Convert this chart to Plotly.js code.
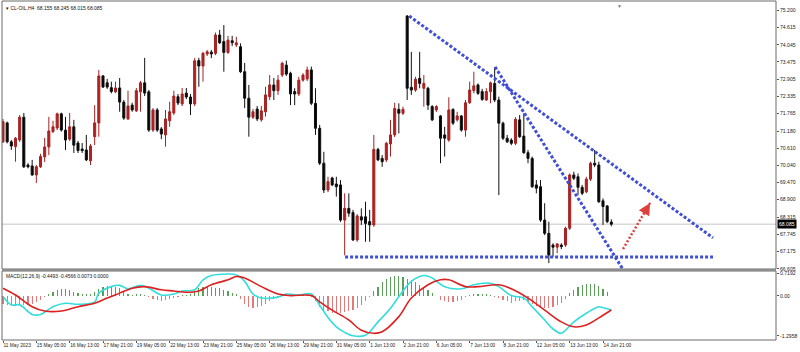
<!DOCTYPE html>
<html><head><meta charset="utf-8">
<script src="https://cdn.plot.ly/plotly-3.0.1.min.js"></script>
<style>html,body{margin:0;padding:0;background:#fff}#chart{width:800px;height:352px}</style>
</head><body><div id="chart"></div>
<script>
// ---- Candles (CL-OIL H4), bar index 0..146 ----
const openP = [70.82,71.45,70.82,70.66,70.88,71.64,70.05,70.02,69.72,69.99,
70.32,70.65,71.16,71.28,71.75,71.21,70.91,71.32,70.78,70.58,
70.55,70.19,70.99,71.45,73.01,72.78,72.62,72.48,72.61,72.14,
71.58,72.04,71.85,72.48,72.78,72.48,71.21,71.88,71.25,71.05,
71.52,71.78,72.32,72.08,72.44,72.31,72.08,73.52,73.34,73.74,
73.80,73.76,74.37,74.15,73.79,74.18,74.04,73.98,73.15,72.27,
71.64,71.91,71.55,71.82,72.32,72.71,72.52,73.04,73.37,73.10,
72.49,72.41,72.87,72.91,73.21,72.10,71.27,70.11,69.22,69.62,
69.42,69.39,68.22,68.61,68.47,67.56,68.33,68.33,68.17,68.06,
70.57,70.27,70.22,70.75,71.05,71.90,71.77,75.00,72.63,72.54,
72.93,72.60,72.60,71.99,71.88,71.68,71.05,70.88,71.90,71.55,
71.68,71.21,72.12,72.52,72.71,72.49,72.21,72.49,72.76,72.21,
71.44,70.94,70.88,70.77,71.55,71.01,70.46,70.27,69.39,69.33,
68.22,67.78,67.39,67.32,67.39,67.39,67.95,69.72,69.66,69.31,
69.16,69.58,70.11,70.05,68.86,68.69,68.155];
const highP = [71.58,71.49,70.88,70.98,71.71,71.78,70.11,70.22,70.05,70.42,
70.95,71.65,71.52,71.79,71.79,71.65,71.78,71.55,70.85,70.78,
71.05,70.75,72.04,73.21,73.04,72.91,72.82,72.82,72.94,72.21,
72.52,72.12,72.61,72.84,73.61,72.54,71.94,71.94,71.31,71.88,
72.15,72.52,72.41,72.61,72.61,72.41,73.61,73.61,73.81,73.87,
73.87,74.45,74.54,74.70,74.34,74.34,74.31,74.09,73.44,72.71,
71.91,72.01,72.01,72.65,73.04,72.94,73.04,73.48,73.52,73.15,
72.60,72.98,73.10,73.32,73.32,72.60,71.38,70.49,69.66,69.66,
69.66,69.55,69.11,69.11,68.56,68.42,68.61,68.83,68.56,71.05,
70.62,70.38,70.82,71.55,72.12,72.10,71.99,75.03,73.81,72.98,
73.81,73.04,72.65,72.04,72.04,71.71,71.32,72.30,71.93,71.82,
71.71,72.21,72.82,73.15,72.76,72.58,72.60,72.82,73.30,72.32,
71.49,71.05,70.94,71.64,71.71,71.77,70.55,70.33,69.55,69.55,
68.78,68.17,67.45,67.45,67.45,68.00,69.77,69.83,69.77,69.39,
69.66,70.16,70.55,70.16,68.94,68.72,68.245];
const lowP = [70.78,70.77,70.55,70.16,70.82,69.95,69.94,69.69,69.45,69.95,
70.15,70.38,71.11,71.21,71.16,70.55,70.85,70.45,70.45,70.45,
70.18,70.05,70.71,70.99,72.61,72.58,72.43,72.44,71.82,71.55,
71.55,71.82,71.81,71.82,72.34,71.15,71.15,71.15,70.91,70.66,
71.32,71.71,72.04,72.01,72.24,71.71,72.01,72.65,72.82,73.67,
73.60,73.70,74.07,73.15,73.74,74.00,73.97,73.11,71.94,70.99,
71.58,71.51,71.49,71.66,72.21,72.21,72.38,72.97,73.01,72.04,
72.04,72.34,72.82,72.84,72.04,71.05,70.05,69.12,69.15,69.35,
69.00,68.16,67.05,68.33,67.53,67.50,68.06,67.50,67.50,68.00,
70.18,69.99,70.15,70.33,70.98,71.10,71.71,72.21,72.38,72.48,
72.60,71.99,71.88,71.51,71.81,70.11,70.33,70.82,71.38,71.49,
71.16,70.99,72.08,72.43,72.38,72.18,72.18,72.10,72.14,69.05,
70.88,70.78,70.71,70.71,70.95,70.42,70.11,69.29,69.11,68.16,
67.72,66.79,67.00,67.12,67.26,67.33,67.89,69.55,69.05,69.05,
69.11,69.52,69.98,68.79,68.06,68.12,68.015];
const closeP = [71.49,70.82,70.68,70.94,71.64,69.99,69.99,69.72,69.99,70.33,
70.65,71.18,71.32,71.75,71.21,70.88,71.32,70.71,70.53,70.53,
70.22,70.68,71.45,73.01,72.64,72.64,72.49,72.61,72.14,71.61,
72.01,71.88,72.52,72.78,72.44,71.21,71.88,71.21,71.08,71.58,
71.82,72.34,72.11,72.41,72.31,72.08,73.51,73.34,73.76,73.81,
73.74,74.37,74.11,73.79,74.20,74.11,74.11,73.15,72.27,71.64,
71.82,71.58,71.85,72.38,72.71,72.52,72.87,73.43,73.07,72.41,
72.41,72.87,73.04,73.21,72.10,71.27,70.11,69.22,69.50,69.39,
69.33,68.22,68.61,68.45,67.56,68.36,68.22,68.11,68.06,70.57,
70.22,70.16,70.77,71.05,71.93,71.77,71.90,72.60,72.54,72.90,
72.76,72.76,72.04,71.55,71.99,70.94,70.94,71.88,71.44,71.68,
71.21,72.12,72.54,72.68,72.43,72.23,72.49,72.78,72.21,71.44,
70.94,70.82,70.77,71.57,70.99,70.46,70.27,69.33,69.28,68.22,
67.78,67.06,67.32,67.43,67.34,67.95,69.72,69.61,69.31,69.11,
69.58,70.11,70.05,68.83,68.67,68.17,68.085];

// ---- MACD(12,26,9) ----
const macdX = [0,2,4,7,9,12,15,18,22,23,26,28,30,33,35,38,41,43,46,48,50,54,56,58,60,62,66,68,71,74,76,78,80,82,84,87,90,93,95,98,101,103,106,110,113,117,119,122,125,127,130,132,134,135,137,140,143,144,146];
const macdY = [-0.02,-0.29,-0.29,-0.60,-0.60,-0.35,-0.24,-0.27,-0.19,0.09,0.30,0.34,0.23,0.34,0.25,0.03,0.06,0.16,0.20,0.52,0.66,0.71,0.68,0.47,0.06,-0.07,-0.04,0.06,0.03,0.06,-0.30,-0.70,-1.00,-1.18,-1.29,-1.27,-0.84,-0.40,-0.02,0.47,0.66,0.58,0.30,0.23,0.36,0.41,0.30,0.01,-0.07,-0.35,-0.78,-1.07,-1.21,-1.11,-0.84,-0.56,-0.35,-0.38,-0.4493];
const sigX = [0,3,7,10,14,18,22,25,28,31,34,38,41,44,47,50,54,56,58,62,66,69,74,76,79,83,86,89,91,95,98,102,105,107,111,114,119,122,126,130,134,137,140,143,146];
const sigY = [0.25,0.03,-0.35,-0.49,-0.49,-0.35,-0.24,-0.07,0.09,0.25,0.30,0.20,0.16,0.12,0.16,0.36,0.52,0.63,0.58,0.30,0.06,0.01,0.01,-0.19,-0.46,-0.78,-1.11,-1.21,-1.16,-0.67,-0.07,0.36,0.52,0.52,0.30,0.30,0.36,0.23,-0.07,-0.46,-0.84,-1.00,-0.94,-0.71,-0.4566];
const histY = [-0.27,-0.30,-0.33,-0.32,-0.30,-0.30,-0.28,-0.25,-0.20,-0.14,
-0.05,0.05,0.12,0.18,0.21,0.21,0.18,0.13,0.08,0.06,
0.05,0.06,0.14,0.22,0.28,0.33,0.33,0.30,0.25,0.15,
0.06,0.04,0.06,0.07,0.04,-0.04,-0.09,-0.13,-0.16,-0.14,
-0.11,-0.08,-0.03,0.02,0.04,0.05,0.15,0.25,0.30,0.31,
0.30,0.27,0.24,0.20,0.15,0.09,0.05,-0.10,-0.25,-0.36,
-0.39,-0.37,-0.33,-0.26,-0.18,-0.11,-0.04,0.03,0.05,0.03,
0.02,0.02,0.03,0.05,-0.05,-0.17,-0.35,-0.45,-0.50,-0.55,
-0.55,-0.55,-0.52,-0.50,-0.46,-0.40,-0.30,-0.18,-0.05,0.15,
0.30,0.45,0.55,0.62,0.65,0.65,0.60,0.55,0.52,0.45,
0.35,0.28,0.18,0.08,0.00,-0.12,-0.17,-0.20,-0.20,-0.17,
-0.12,-0.05,0.03,0.06,0.07,0.06,0.05,0.04,-0.02,-0.08,
-0.12,-0.18,-0.22,-0.18,-0.15,-0.14,-0.20,-0.27,-0.33,-0.37,
-0.38,-0.38,-0.36,-0.30,-0.22,-0.10,0.08,0.18,0.28,0.34,
0.38,0.40,0.38,0.32,0.22,0.12,0.01];

// ---- Drawn objects (bar index, price) ----
const upperTrendX = [97.5,170.4], upperTrendY = [75.00,67.63];
const steepTrendX = [118.1,149.5], steepTrendY = [73.31,66.43];
const supportX = [82.1,170.4], supportY = [66.99,66.99];
const arrowX = [148.8,155.3], arrowY = [67.26,68.79];
const lastPrice = 68.085;

// ---- Axis labels ----
const timeTickVals = [0,8,16,24,32,40,48,56,64,72,80,88,96,104,112,120,128,136,144];
const timeTickText = ["11 May 2023","15 May 05:00","16 May 13:00","17 May 21:00","19 May 05:00","22 May 13:00","23 May 21:00","25 May 05:00","26 May 13:00","29 May 21:00","31 May 05:00","1 Jun 13:00","2 Jun 21:00","6 Jun 05:00","7 Jun 13:00","8 Jun 21:00","12 Jun 05:00","13 Jun 13:00","14 Jun 21:00"];
const priceTickVals = [75.2,74.615,74.045,73.475,72.905,72.335,71.765,71.18,70.61,70.04,69.47,68.9,68.315,67.745,67.175,66.605];
const macdTickVals = [0.7192,0,-1.2958];
const macdTickText = ["0.7192","0.00","-1.2958"];

const idx = openP.map((_, i) => i);
const F = 'Liberation Sans, Arial, sans-serif';
const dotBlue = '#3f4fd6';

const traces = [
  {type:'candlestick', x:idx, open:openP, high:highP, low:lowP, close:closeP, xaxis:'x', yaxis:'y',
   increasing:{line:{color:'#a52222',width:1}, fillcolor:'#b22222'},
   decreasing:{line:{color:'#111',width:1}, fillcolor:'#000'},
   whiskerwidth:0, hoverinfo:'skip'},
  {type:'scatter', mode:'lines', x:upperTrendX, y:upperTrendY, xaxis:'x', yaxis:'y', line:{color:dotBlue,width:3,dash:'3px,2px'}, hoverinfo:'skip'},
  {type:'scatter', mode:'lines', x:steepTrendX, y:steepTrendY, xaxis:'x', yaxis:'y', line:{color:dotBlue,width:3,dash:'3px,2px'}, hoverinfo:'skip'},
  {type:'scatter', mode:'lines', x:supportX, y:supportY, xaxis:'x', yaxis:'y', line:{color:dotBlue,width:3,dash:'3px,2px'}, hoverinfo:'skip'},
  {type:'scatter', mode:'lines', x:arrowX, y:arrowY, xaxis:'x', yaxis:'y', line:{color:'#e0403c',width:2.5,dash:'2px,2px'}, hoverinfo:'skip'},
  {type:'bar', x:idx, y:histY, xaxis:'x', yaxis:'y2', width:0.25,
   marker:{color:histY.map(v => v >= 0 ? '#5a9e5a' : '#e27a7a'), line:{width:0}}, hoverinfo:'skip'},
  {type:'scatter', mode:'lines', x:macdX, y:macdY, xaxis:'x', yaxis:'y2', line:{color:'#35dcdc',width:1.6,shape:'spline'}, hoverinfo:'skip'},
  {type:'scatter', mode:'lines', x:sigX, y:sigY, xaxis:'x', yaxis:'y2', line:{color:'#dd2020',width:1.6,shape:'spline'}, hoverinfo:'skip'}
];

const mainBottom = 0.2094, macdTop = 0.2035;
const layout = {
  width:800, height:352, margin:{l:2,r:24,t:1,b:12},
  paper_bgcolor:'#fff', plot_bgcolor:'#fff', showlegend:false, bargap:0,
  xaxis:{domain:[0,1], range:[-0.24,185.52], anchor:'y2', showgrid:false, zeroline:false, showline:false,
    tickmode:'array', tickvals:timeTickVals, ticktext:timeTickText, ticks:'outside', ticklen:2, tickcolor:'#555',
    tickangle:0, automargin:false,
    ticklabelposition:'outside right', tickfont:{family:F,size:4.8,color:'#222'}, rangeslider:{visible:false}, fixedrange:true},
  yaxis:{domain:[mainBottom,1], range:[66.595,75.499], side:'right', anchor:'x', showgrid:false, zeroline:false,
    showline:false, tickmode:'array', tickvals:priceTickVals, ticktext:priceTickVals.map(v=>v.toFixed(3)),
    ticks:'outside', ticklen:2, tickcolor:'#555', tickfont:{family:F,size:5.1,color:'#222'}, fixedrange:true},
  yaxis2:{domain:[0,macdTop], range:[-1.426,0.805], side:'right', anchor:'x', showgrid:false, zeroline:false,
    showline:false, tickmode:'array', tickvals:macdTickVals, ticktext:macdTickText,
    ticks:'outside', ticklen:2, tickcolor:'#555', tickfont:{family:F,size:5.1,color:'#222'}, fixedrange:true},
  shapes:[
    {type:'line', xref:'paper', yref:'y', x0:0, x1:1, y0:lastPrice, y1:lastPrice, line:{color:'#c4c4c4',width:1}, layer:'below'},
    {type:'rect', xref:'paper', yref:'paper', x0:0, x1:1, y0:mainBottom, y1:1, line:{color:'#6a6a6a',width:1}},
    {type:'rect', xref:'paper', yref:'paper', x0:0, x1:1, y0:0, y1:macdTop, line:{color:'#6a6a6a',width:1}},
    {type:'rect', xref:'paper', yref:'paper', x0:0, x1:1, y0:macdTop, y1:mainBottom, fillcolor:'#8c8c8c', line:{width:0}}
  ],
  annotations:[
    {xref:'paper', yref:'paper', x:0.003, y:1, xanchor:'left', yanchor:'top', yshift:-2, showarrow:false,
     text:'▾ CL-OIL,H4  68.155 68.245 68.015 68.085', font:{family:F,size:5,color:'#111'}},
    {xref:'paper', yref:'paper', x:0.003, y:macdTop, xanchor:'left', yanchor:'top', yshift:-1, showarrow:false,
     text:'MACD(12,26,9) -0.4493 -0.4566 0.0073 0.0000', font:{family:F,size:4.9,color:'#111'}},
    {xref:'paper', yref:'y', x:1, y:lastPrice, xanchor:'left', yanchor:'middle', xshift:1, showarrow:false,
     text:'68.085', bgcolor:'#000', borderpad:1, font:{family:F,size:5.1,color:'#fff'}},
    {xref:'x', yref:'y', x:arrowX[1], y:arrowY[1], ax:-3, ay:5.2, showarrow:true, arrowhead:2, arrowsize:1.2,
     arrowwidth:2, arrowcolor:'#e0403c', text:''},
    {xref:'x', yref:'paper', x:148, y:1, xanchor:'center', yanchor:'top', showarrow:false, text:'▼',
     font:{family:F,size:5,color:'#777'}}
  ]
};

Plotly.newPlot('chart', traces, layout, {displayModeBar:false, staticPlot:true});
</script>
</body></html>
